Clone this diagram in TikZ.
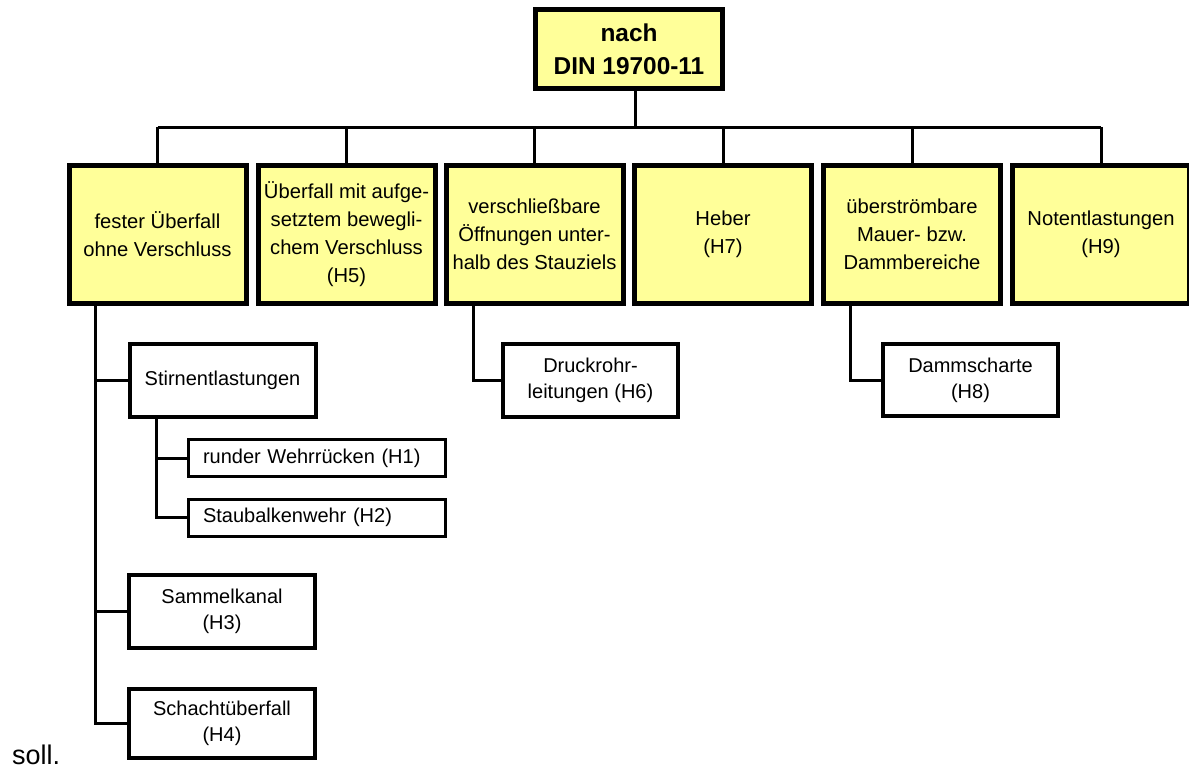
\documentclass[tikz,border=0pt]{standalone}
\usepackage{fontspec}
\setmainfont{Liberation Sans}
\usetikzlibrary{positioning}
\definecolor{boxyellow}{HTML}{FFFF99}

\begin{document}
\begin{tikzpicture}[
        x=0.5pt, y=-0.5pt, % pixel grid of the reference
        every node/.style={font=\fontsize{10.1}{14}\selectfont},
        titlebox/.style={rectangle, draw=black, fill=boxyellow, line width=2.5pt, minimum width=93.5pt, minimum height=39.5pt, align=center, inner sep=1pt, font=\bfseries\fontsize{12.2}{16.5}\selectfont},
        box/.style={rectangle, draw=black, fill=boxyellow, line width=2.5pt, minimum width=88.5pt, minimum height=69pt, align=center, inner sep=1pt},
        subbox/.style={rectangle, draw=black, fill=white, line width=2pt, minimum width=93pt, minimum height=36.5pt, align=center, inner sep=1pt, font=\fontsize{10}{13}\selectfont},
        leafbox/.style={rectangle, draw=black, fill=white, line width=1.5pt, text width=114pt, inner xsep=7.25pt, inner ysep=1pt, minimum height=18.5pt, align=left, font=\fontsize{10}{13}\selectfont},
        conn/.style={line width=1.5pt}
    ]
    \useasboundingbox (0,0) rectangle (1189,771);

    \node[titlebox] (din) at (629,49) {nach\\DIN 19700-11};

    % first level
    \node[box] (b1) at (157.5,234.5) {fester Überfall\\ohne Verschluss};
    \node[box] (b2) at (346.5,234.5) {Überfall mit aufge-\\setztem bewegli-\\chem Verschluss\\(H5)};
    \node[box] (b3) at (534.5,234.5) {verschließbare\\Öffnungen unter-\\halb des Stauziels};
    \node[box] (b4) at (723,234.5) {Heber\\(H7)};
    \node[box] (b5) at (912,234.5) {überströmbare\\Mauer- bzw.\\Dammbereiche};
    \node[box] (b6) at (1101,234.5) {Notentlastungen\\(H9)};

    % below the first level
    \node[subbox] (stirn) at (222.5,380) {Stirnentlastungen};
    \node[leafbox] (h1) at (317,458) {runder Wehrrücken (H1)};
    \node[leafbox] (h2) at (317,517.5) {Staubalkenwehr (H2)};
    \node[subbox] (sammel) at (222,611.5) {Sammelkanal\\(H3)};
    \node[subbox, minimum height=34.5pt] (schacht) at (222,723.5) {Schachtüberfall\\(H4)};
    \node[subbox, minimum width=87.5pt] (druck) at (590.5,380.5) {Druckrohr-\\leitungen (H6)};
    \node[subbox, minimum width=87.5pt, minimum height=36pt] (damm) at (970.5,380) {Dammscharte\\(H8)};

    \node[anchor=base west, font=\fontsize{13.5}{16}\selectfont] (soll) at (5,764) {soll.};

    % connectors
    \coordinate (bus) at (635,127);
    \draw[conn] (din.south -| bus) -- (bus);
    \draw[conn] (b1.north |- bus) -- (b6.north |- bus);
    \foreach \b in {b1,b2,b3,b4,b5,b6}
        \draw[conn] (\b.north) -- (\b.north |- bus);

    \coordinate (t1) at ([xshift=14.25pt]b1.south west);
    \draw[conn] (t1) |- (schacht.west);
    \draw[conn] (t1 |- stirn.west) -- (stirn.west);
    \draw[conn] (t1 |- sammel.west) -- (sammel.west);

    \coordinate (t2) at ([xshift=14.5pt]stirn.south west);
    \draw[conn] (t2) |- (h2.west);
    \draw[conn] (t2 |- h1.west) -- (h1.west);

    \coordinate (t3) at ([xshift=14.75pt]b3.south west);
    \draw[conn] (t3) |- (druck.west);

    \coordinate (t5) at ([xshift=14.75pt]b5.south west);
    \draw[conn] (t5) |- (damm.west);
\end{tikzpicture}
\end{document}
